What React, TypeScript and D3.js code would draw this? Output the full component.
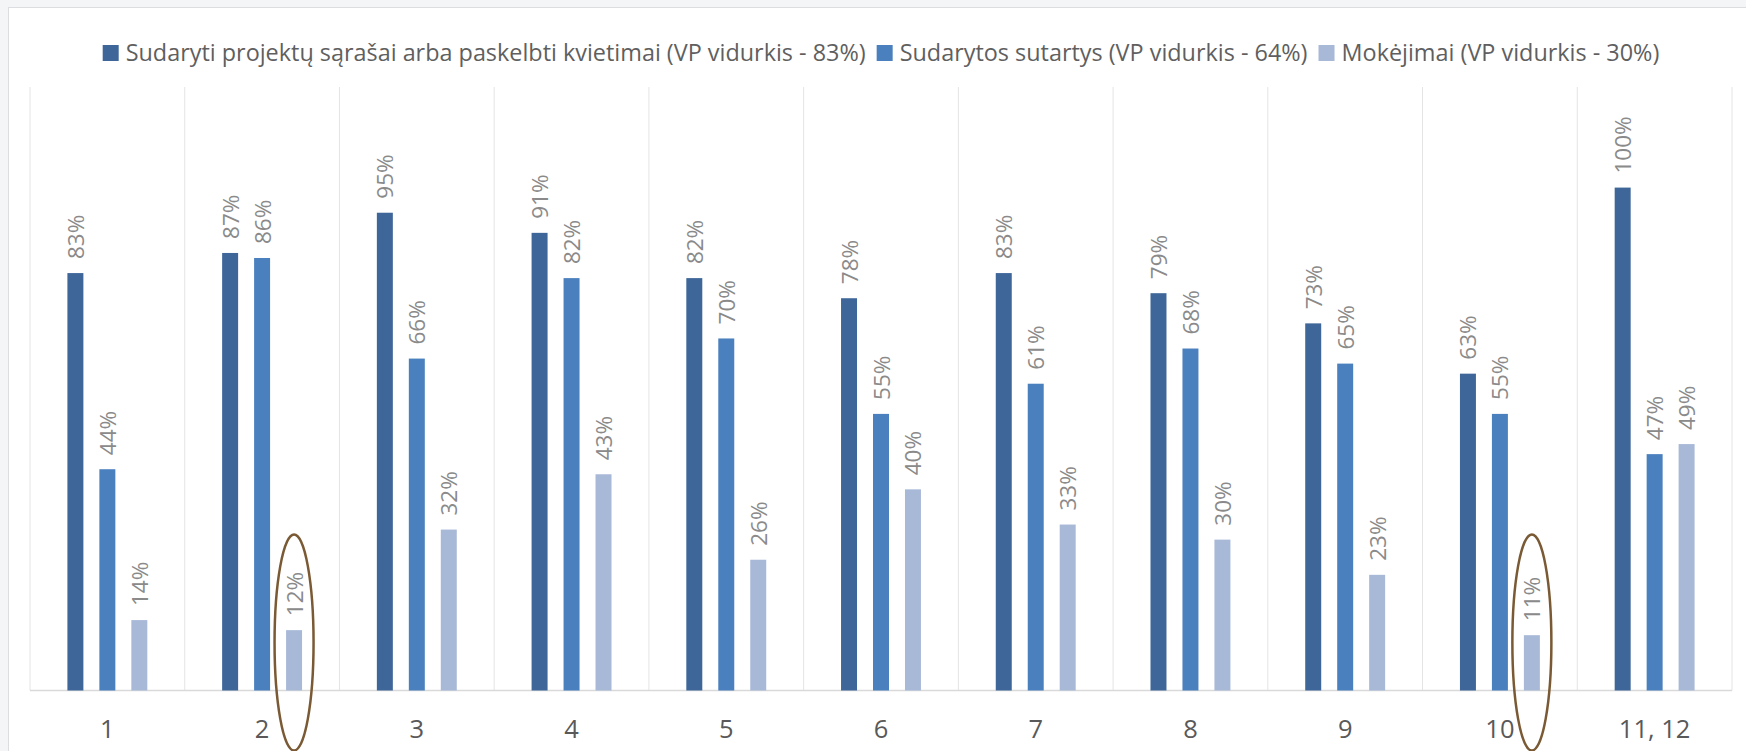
import { useEffect, useRef } from 'react'
import * as d3 from 'd3'

const categories = ['1', '2', '3', '4', '5', '6', '7', '8', '9', '10', '11, 12']
const seriesNames = [
	'Sudaryti projektų sąrašai arba paskelbti kvietimai (VP vidurkis - 83%)',
	'Sudarytos sutartys (VP vidurkis - 64%)',
	'Mokėjimai (VP vidurkis - 30%)',
]
const projectLists = [83, 87, 95, 91, 82, 78, 83, 79, 73, 63, 100]
const contracts = [44, 86, 66, 82, 70, 55, 61, 68, 65, 55, 47]
const payments = [14, 12, 32, 43, 26, 40, 33, 30, 23, 11, 49]
// categories that are circled on the original
const highlighted = ['2', '10']

const colors = ['#3e6699', '#4b80be', '#a8b9d8']
const W = 1746
const H = 751

export default function App() {
	const ref = useRef<SVGSVGElement>(null)

	useEffect(() => {
		const svg = d3.select(ref.current)
		svg.selectAll('*').remove()

		const series = [projectLists, contracts, payments]
		const margin = { left: 30, right: 14, top: 87, bottom: 60.5 }

		const x = d3
			.scaleBand<string>()
			.domain(categories)
			.range([margin.left, W - margin.right])
		const inner = d3
			.scaleBand<number>()
			.domain([0, 1, 2])
			.range([0, x.bandwidth()])
			.paddingInner(0.5)
			.paddingOuter(1.17)
		const y = d3
			.scaleLinear()
			.domain([0, 120])
			.range([H - margin.bottom, margin.top])

		// page + panel
		svg.append('rect').attr('width', W).attr('height', H).attr('fill', '#f4f5f7')
		svg
			.append('rect')
			.attr('x', 8.5)
			.attr('y', 7.5)
			.attr('width', W)
			.attr('height', H)
			.attr('fill', '#fff')
			.attr('stroke', '#dcdde0')

		// vertical grid at category boundaries
		const bounds = categories.map((c) => x(c)!).concat([x.range()[1]])
		svg
			.append('g')
			.selectAll('line')
			.data(bounds)
			.join('line')
			.attr('x1', (d) => d)
			.attr('x2', (d) => d)
			.attr('y1', y(120))
			.attr('y2', y(0))
			.attr('stroke', '#e4e4e4')
			.attr('stroke-width', 1)

		svg
			.append('line')
			.attr('x1', x.range()[0])
			.attr('x2', x.range()[1])
			.attr('y1', y(0))
			.attr('y2', y(0))
			.attr('stroke', '#d9d9d9')
			.attr('stroke-width', 1.5)

		// bars + labels
		series.forEach((vals, si) => {
			const g = svg.append('g')
			g.selectAll('rect')
				.data(vals)
				.join('rect')
				.attr('x', (_, i) => x(categories[i])! + inner(si)!)
				.attr('y', (d) => y(d))
				.attr('width', inner.bandwidth())
				.attr('height', (d) => y(0) - y(d))
				.attr('fill', colors[si])
			g.selectAll('text')
				.data(vals)
				.join('text')
				.attr('transform', (d, i) => {
					const cx = x(categories[i])! + inner(si)! + inner.bandwidth() / 2
					return `translate(${cx},${y(d) - 14}) rotate(-90)`
				})
				.attr('dominant-baseline', 'central')
				.attr('font-family', 'Open Sans')
				.attr('font-size', 22.5)
				.attr('fill', '#8a8a8a')
				.text((d) => `${d}%`)
		})

		// x axis labels
		svg
			.append('g')
			.selectAll('text')
			.data(categories)
			.join('text')
			.attr('x', (d) => x(d)! + x.bandwidth() / 2)
			.attr('y', 738)
			.attr('text-anchor', 'middle')
			.attr('font-family', 'Open Sans')
			.attr('font-size', 25.5)
			.attr('fill', '#595959')
			.text((d) => d)

		// legend, measured and centred
		const legend = svg.append('g')
		let cursor = 0
		seriesNames.forEach((name, i) => {
			legend
				.append('rect')
				.attr('x', cursor)
				.attr('y', -16)
				.attr('width', 16)
				.attr('height', 16)
				.attr('fill', colors[i])
			const t = legend
				.append('text')
				.attr('x', cursor + 23)
				.attr('y', 0)
				.attr('font-family', 'Open Sans')
				.attr('font-size', 23.4)
				.attr('fill', '#5f5f5f')
				.text(name)
			cursor += 23 + (t.node() as SVGTextElement).getComputedTextLength() + 11
		})
		const lw = cursor - 11
		legend.attr('transform', `translate(${(x.range()[0] + x.range()[1]) / 2 - lw / 2},61)`)

		// annotation ellipses around circled payment bars
		svg
			.append('g')
			.selectAll('ellipse')
			.data(highlighted)
			.join('ellipse')
			.attr('cx', (c) => x(c)! + inner(2)! + inner.bandwidth() / 2)
			.attr('cy', y(0) - 48)
			.attr('rx', 19.5)
			.attr('ry', 108)
			.attr('fill', 'none')
			.attr('stroke', '#7a5a34')
			.attr('stroke-width', 2.5)
	}, [])

	return (
		<div style={{ position: 'fixed', left: 0, top: 0 }}>
			<svg ref={ref} width={W} height={H} style={{ display: 'block' }} />
		</div>
	)
}
